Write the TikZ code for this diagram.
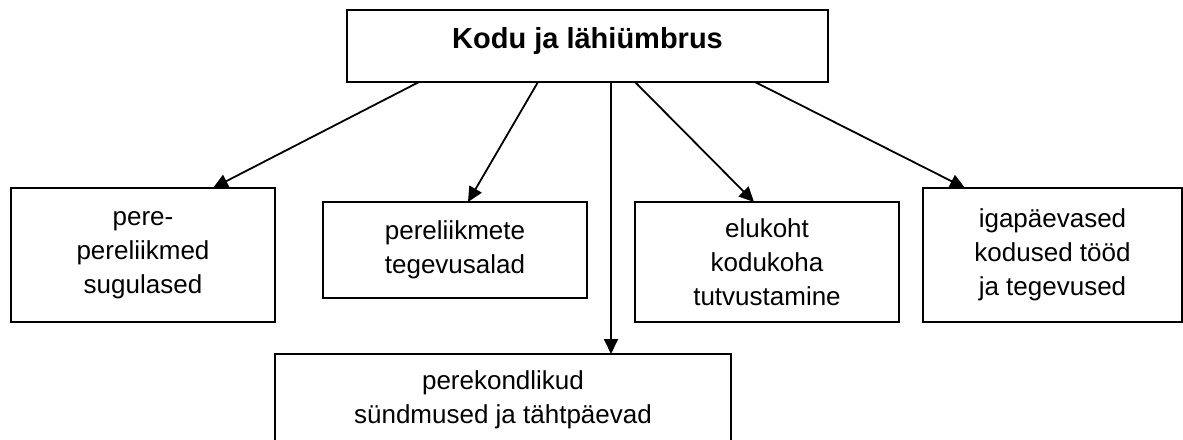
\documentclass[tikz,border=0pt]{standalone}
\usepackage{fontspec}
\setmainfont{Liberation Sans}
\usetikzlibrary{calc,arrows.meta}
\begin{document}
\begin{tikzpicture}[x=1pt,y=-1pt,
  boxstyle/.style={draw,line width=1.8pt,rectangle,inner sep=0pt,outer sep=0pt,align=center,
    font=\fontsize{26}{34}\selectfont},
  arr/.style={line width=1.8pt,-{Triangle[length=15pt,width=14pt]}}]
\useasboundingbox (0,0) rectangle (1183,439);
\clip (0,0) rectangle (1183,439);
\fill[white] (0,0) rectangle (1183,439);
\node[boxstyle,minimum width=481pt,minimum height=72pt] (top) at (587.5,46) {};
\node[anchor=base,font=\fontsize{29}{34}\selectfont\bfseries] (toptext) at (587.5,48) {Kodu ja lähiümbrus};
\node[boxstyle,minimum width=264pt,minimum height=134pt] (b1) at (143,255) {pere-\\pereliikmed\\sugulased};
\node[boxstyle,minimum width=264pt,minimum height=96pt] (b2) at (455,250) {pereliikmete\\tegevusalad};
\node[boxstyle,minimum width=264pt,minimum height=120pt] (b3) at (767,262) {elukoht\\kodukoha\\tutvustamine};
\node[boxstyle,minimum width=259pt,minimum height=134pt] (b4) at (1052.5,255) {igapäevased\\kodused tööd\\ja tegevused};
\node[boxstyle,minimum width=456pt,minimum height=92pt] (b5) at (503,400) {perekondlikud\\sündmused ja tähtpäevad};
\draw[arr] ($(top.south west)+(72,0)$) -- ($(b1.north west)+(202,0)$);
\draw[arr] ($(top.south west)+(191,0)$) -- ($(b2.north west)+(145,0)$);
\draw[arr] ($(top.south west)+(264,0)$) -- ($(b5.north west)+(336,0)$);
\draw[arr] ($(top.south west)+(288,0)$) -- ($(b3.north west)+(119,0)$);
\draw[arr] ($(top.south west)+(408,0)$) -- ($(b4.north west)+(42,0)$);
\end{tikzpicture}
\end{document}
